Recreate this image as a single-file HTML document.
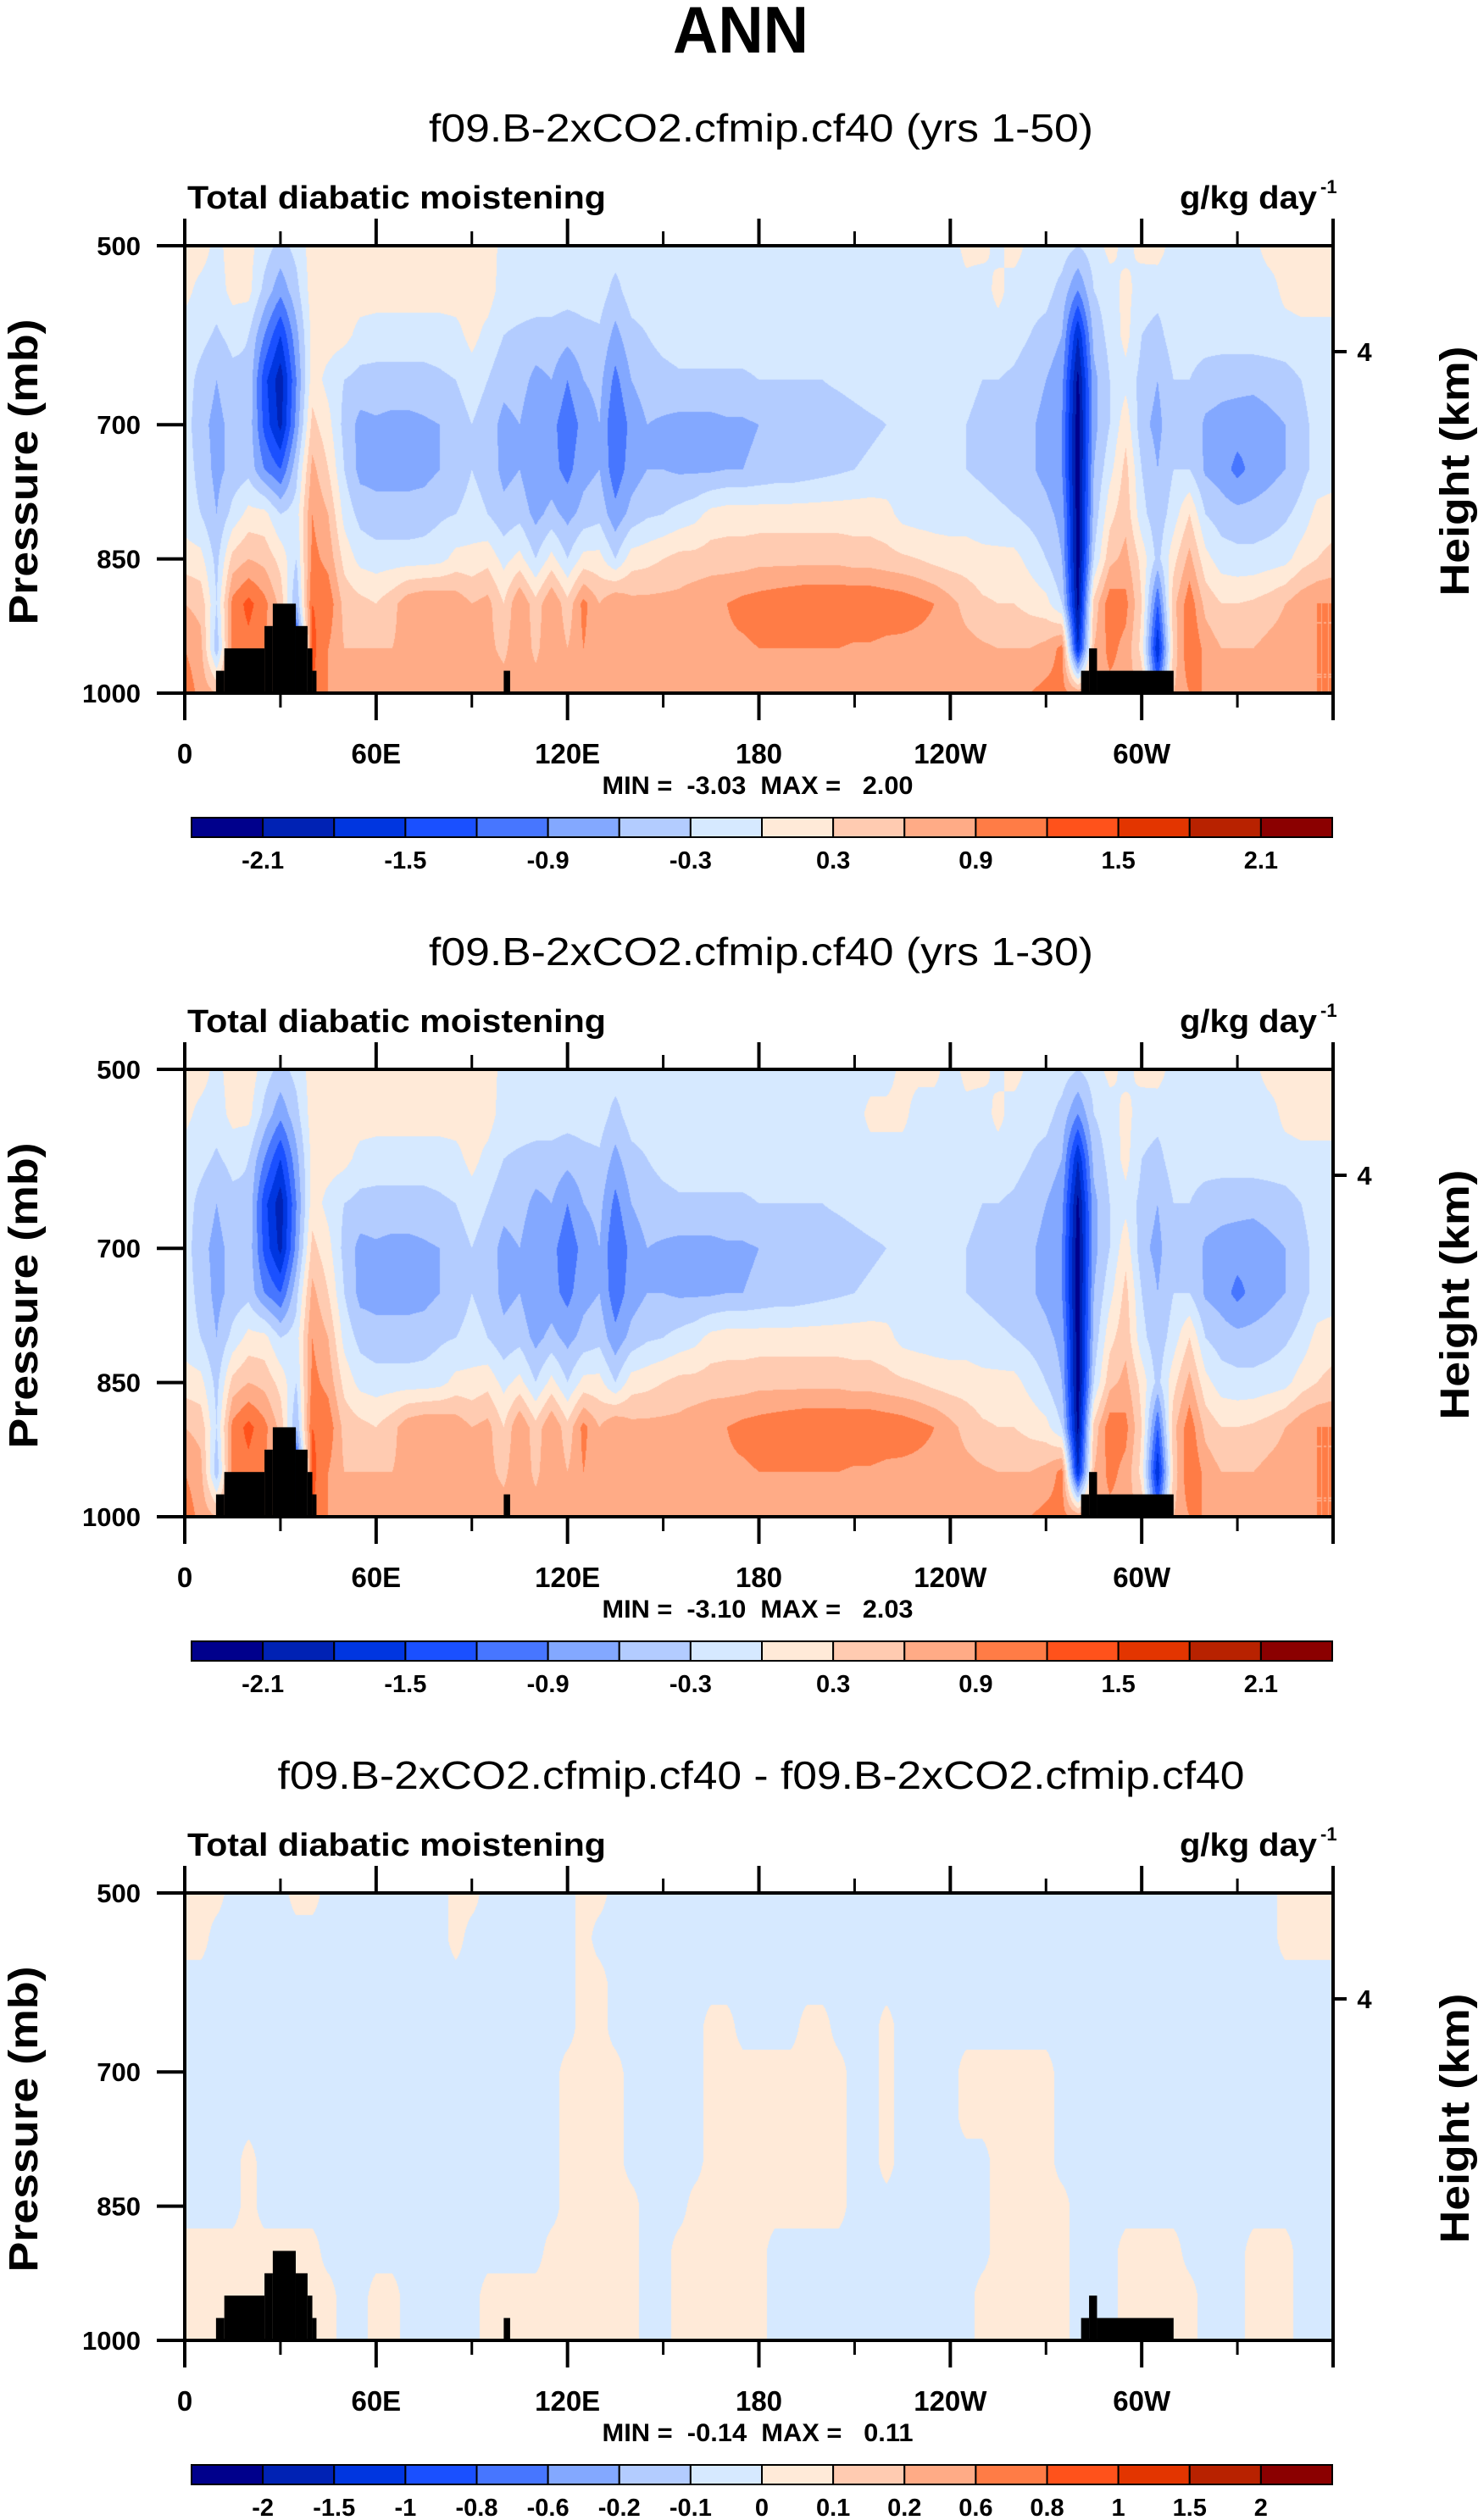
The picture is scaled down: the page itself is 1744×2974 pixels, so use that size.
<!DOCTYPE html>
<html><head><meta charset="utf-8">
<style>
html,body{margin:0;padding:0;background:#fff;}
#root{position:relative;width:1744px;height:2974px;overflow:hidden;background:#fff;}
canvas{position:absolute;}
svg{position:absolute;left:0;top:0;}
text{font-family:"Liberation Sans",sans-serif;fill:#000;}
</style></head>
<body>
<div id="root">
<canvas id="c0" width="1355" height="528"></canvas>
<canvas id="c1" width="1355" height="528"></canvas>
<canvas id="c2" width="1355" height="528"></canvas>
<svg id="svg" width="1744" height="2974" xmlns="http://www.w3.org/2000/svg"></svg>
</div>
<script>
// ---------- data ----------
const lons = [0,5,10,15,20,25,30,35,40,45,50,55,60,65,70,75,80,85,90,95,100,105,110,115,120,125,130,135,140,145,150,155,160,165,170,175,180,185,190,195,200,205,210,215,220,225,230,235,240,245,250,255,260,265,270,275,280,285,290,295,300,305,310,315,320,325,330,335,340,345,350,355,360];
const levels = [500,550,600,650,700,750,800,850,900,950,1000];
const xTickLabels = ["0","60E","120E","180","120W","60W"];
const xTickLons = [0,60,120,180,240,300];
const pTickLabels = ["500","700","850","1000"];
const pTicks = [500,700,850,1000];
const colors = ["#00008C","#0022B4","#0036E0","#1A50FF","#4776FF","#83A8FF","#B3CCFF","#D6E9FF","#FFEAD8","#FFCBB1","#FFAB86","#FF7C46","#FF521B","#E33500","#B82200","#8B0000"];
const bounds12 = [-2.1,-1.8,-1.5,-1.2,-0.9,-0.6,-0.3,0,0.3,0.6,0.9,1.2,1.5,1.8,2.1];
const cbLabels12 = ["-2.1","","-1.5","","-0.9","","-0.3","","0.3","","0.9","","1.5","","2.1"];
const bounds3 = [-2,-1.5,-1,-0.8,-0.6,-0.2,-0.1,0,0.1,0.2,0.6,0.8,1,1.5,2];
const cbLabels3 = ["-2","-1.5","-1","-0.8","-0.6","-0.2","-0.1","0","0.1","0.2","0.6","0.8","1","1.5","2"];
const titles = ["f09.B-2xCO2.cfmip.cf40 (yrs 1-50)","f09.B-2xCO2.cfmip.cf40 (yrs 1-30)","f09.B-2xCO2.cfmip.cf40 - f09.B-2xCO2.cfmip.cf40"];
const minMax = ["MIN = \u00a0-3.03 \u00a0MAX = \u00a0 2.00","MIN = \u00a0-3.10 \u00a0MAX = \u00a0 2.03","MIN = \u00a0-0.14 \u00a0MAX = \u00a0 0.11"];
const topoLon0 = [9.8,12.4,25,27.6,34.8,38.5,40,100,281,283.5,286];
const topoLon1 = [12.4,25,27.6,34.8,38.5,40,41.3,102,283.5,286,310];
const topoP = [975,950,925,900,925,950,975,975,975,950,975];

const field1 = [
[.15,.15,-.1,.15,.1,-.15,-.4,-.2,.15,.15,.15,.15,.15,.15,.15,.15,.15,.15,.15,.15,-.1,-.15,-.15,-.15,-.15,-.15,-.15,-.15,-.15,-.15,-.15,-.15,-.15,-.15,-.15,-.15,-.1,-.15,-.15,-.15,-.15,-.15,-.15,-.15,-.15,-.15,-.15,-.15,-.15,.1,.1,-.1,.15,-.1,-.15,-.15,-.3,-.15,.1,-.1,.1,.15,-.15,-.15,-.15,-.15,-.15,-.1,.15,.15,.15,.15,.15],
[.1,-.1,-.15,.1,.1,-.4,-.8,-.4,.15,.15,.15,.15,.15,.15,.15,.15,.15,.15,.15,.15,-.15,-.15,-.15,-.15,-.15,-.15,-.15,-.4,-.15,-.15,-.15,-.15,-.15,-.15,-.15,-.15,-.15,-.15,-.15,-.15,-.15,-.15,-.15,-.15,-.15,-.15,-.15,-.15,-.15,-.1,-.15,.1,-.15,-.2,-.2,-.4,-.9,-.3,-.15,.1,-.15,-.2,-.15,-.15,-.15,-.15,-.15,-.15,-.15,.1,.15,.15,.15],
[-.15,-.2,-.35,-.2,-.3,-.9,-1.5,-.7,.1,.15,.1,-.1,-.15,-.15,-.15,-.15,-.15,-.1,.1,-.1,-.3,-.35,-.4,-.4,-.5,-.4,-.35,-.7,-.4,-.3,-.2,-.15,-.15,-.15,-.15,-.15,-.15,-.15,-.15,-.15,-.15,-.15,-.15,-.15,-.15,-.15,-.15,-.15,-.15,-.15,-.15,-.15,-.2,-.3,-.4,-.6,-1.8,-.5,-.2,.1,-.3,-.4,-.15,-.15,-.15,-.15,-.15,-.15,-.15,-.15,-.1,-.1,-.1],
[-.15,-.4,-.6,-.4,-.35,-1.4,-2.0,-.9,.15,-.1,-.3,-.4,-.4,-.4,-.4,-.4,-.35,-.3,-.15,-.3,-.5,-.45,-.7,-.6,-.9,-.6,-.5,-1.0,-.6,-.45,-.4,-.35,-.35,-.35,-.35,-.35,-.3,-.3,-.3,-.3,-.3,-.25,-.2,-.15,-.15,-.15,-.15,-.15,-.15,-.2,-.3,-.3,-.35,-.45,-.6,-.8,-2.2,-.7,-.3,-.1,-.4,-.6,-.3,-.3,-.45,-.5,-.5,-.5,-.45,-.4,-.3,-.15,-.15],
[-.15,-.5,-.7,-.5,-.4,-1.3,-1.9,-.8,.4,.1,-.4,-.7,-.65,-.7,-.7,-.65,-.6,-.45,-.3,-.45,-.7,-.6,-.9,-.8,-1.1,-.8,-.6,-1.2,-.8,-.6,-.65,-.7,-.7,-.7,-.65,-.65,-.6,-.6,-.6,-.5,-.45,-.45,-.4,-.35,-.3,-.2,-.2,-.2,-.25,-.3,-.4,-.4,-.45,-.55,-.7,-.9,-2.3,-.7,-.3,.2,-.5,-.7,-.35,-.4,-.65,-.7,-.75,-.8,-.7,-.6,-.4,-.2,-.15],
[-.15,-.4,-.7,-.5,-.4,-.9,-1.2,-.4,.7,.3,-.3,-.7,-.7,-.7,-.7,-.7,-.6,-.45,-.3,-.4,-.7,-.6,-.9,-.8,-1.0,-.7,-.6,-1.1,-.75,-.6,-.6,-.65,-.65,-.65,-.6,-.6,-.55,-.5,-.5,-.45,-.4,-.35,-.3,-.25,-.2,-.15,-.15,-.15,-.2,-.3,-.35,-.4,-.45,-.55,-.7,-.9,-2.3,-.6,-.1,.4,-.3,-.6,-.3,-.3,-.65,-.75,-1.0,-.8,-.7,-.6,-.4,-.2,-.15],
[-.15,-.3,-.6,-.2,.1,.1,-.3,-.15,.9,.6,-.1,-.4,-.5,-.5,-.5,-.45,-.35,-.3,-.2,-.3,-.5,-.4,-.7,-.5,-.7,-.5,-.4,-.8,-.5,-.35,-.3,-.2,-.1,.1,.15,.15,.15,.15,.15,.15,.15,.15,.15,.15,.1,-.1,-.15,-.15,-.15,-.15,-.2,-.25,-.3,-.4,-.5,-.7,-2.3,-.5,.2,.5,-.2,-.5,-.15,.3,-.3,-.45,-.5,-.5,-.45,-.35,-.2,.1,.15],
[.15,.1,-.4,.4,.6,.5,.2,-.3,1.0,.8,.2,-.1,-.15,-.15,-.15,-.15,-.1,.1,.1,.2,-.1,.1,-.3,.1,-.3,.1,.1,-.3,.15,.2,.3,.4,.4,.45,.45,.45,.5,.5,.5,.5,.5,.5,.45,.45,.4,.35,.3,.2,.15,.15,.1,.1,.1,-.1,-.3,-.6,-2.3,-.3,.5,.7,.2,-.4,.2,.7,.1,-.15,-.2,-.2,-.15,-.1,.15,.3,.4],
[.6,.5,-.3,1.0,1.3,1.0,.5,-.6,1.2,1.1,.5,.4,.3,.5,.8,.9,.9,.8,.6,.7,.3,.9,.4,.9,.4,1.0,.6,.9,.7,.7,.7,.7,.8,.85,.9,1.0,1.05,1.1,1.15,1.2,1.2,1.2,1.2,1.2,1.15,1.1,1.0,.9,.7,.5,.35,.3,.3,.2,.1,-.3,-2.2,.4,1.1,1.0,.3,-1.2,.5,1.1,.5,.3,.3,.35,.45,.6,.8,.9,.9],
[.9,.7,-.5,1.0,1.1,.9,.6,-1.5,1.3,.9,.6,.6,.6,.6,.7,.7,.7,.7,.6,.7,.5,.9,.5,.9,.6,.9,.7,.8,.7,.7,.75,.75,.8,.8,.85,.85,.9,.9,.9,.9,.9,.9,.85,.85,.8,.8,.8,.8,.75,.7,.65,.6,.6,.6,.7,1.0,-1.8,.6,1.0,.8,.2,-1.8,.4,1.2,.8,.6,.6,.6,.7,.75,.8,.9,.9],
[1.1,.8,.6,.9,.9,.8,.7,-2.2,1.2,.9,.9,.9,.9,.85,.85,.85,.85,.85,.8,.8,.8,.8,.8,.85,.85,.85,.85,.85,.85,.85,.85,.85,.85,.85,.85,.85,.85,.85,.85,.85,.85,.85,.85,.85,.85,.85,.85,.85,.85,.85,.85,.85,.85,.9,1.0,1.0,.8,.8,.8,.8,.5,-1.0,.6,.9,.9,.9,.9,.9,.9,.9,.9,.9,.9]
];
const field2 = [
[.15,.15,-.1,.15,.2,-.15,-.4,-.2,.15,.15,.2,.15,.15,.15,.15,.15,.15,.15,.15,.15,-.1,-.15,-.15,-.15,-.15,-.15,-.15,-.15,-.15,-.15,-.15,-.15,-.15,-.15,-.15,-.15,-.1,-.15,-.15,-.15,-.15,-.15,-.15,-.15,-.15,.1,.1,.1,-.15,.1,.1,-.1,.15,-.1,-.15,-.15,-.3,-.15,.1,-.1,.1,.15,-.15,-.15,-.15,-.15,-.15,-.1,.15,.15,.15,.15,.15],
[.1,-.1,-.15,.1,.1,-.4,-.8,-.4,.15,.15,.15,.15,.15,.15,.15,.15,.15,.15,.15,.15,-.15,-.15,-.15,-.15,-.15,-.15,-.15,-.4,-.15,-.15,-.15,-.15,-.15,-.15,-.15,-.15,-.15,-.15,-.15,-.15,-.15,-.15,-.15,.1,.1,.1,-.15,-.15,-.15,-.1,-.15,.1,-.15,-.2,-.2,-.4,-.9,-.3,-.15,.1,-.15,-.2,-.15,-.15,-.15,-.15,-.15,-.15,-.15,.1,.15,.15,.15],
field1[2],field1[3],field1[4],field1[5],field1[6],field1[7],field1[8],field1[9],field1[10]
];
const o=0.05, b=-0.05;
const field3 = [
[o,o,o,b,b,b,b,o,o,b,b,b,b,b,b,b,b,o,o,b,b,b,b,b,b,o,o,b,b,b,b,b,b,b,b,b,b,b,b,b,b,b,b,b,b,b,b,b,b,b,b,b,b,b,b,b,b,b,b,b,b,b,b,b,b,b,b,b,b,o,o,o,o],
[o,o,b,b,b,b,b,b,b,b,b,b,b,b,b,b,b,o,b,b,b,b,b,b,b,o,b,b,b,b,b,b,b,b,b,b,b,b,b,b,b,b,b,b,b,b,b,b,b,b,b,b,b,b,b,b,b,b,b,b,b,b,b,b,b,b,b,b,b,o,o,o,o],
[b,b,b,b,b,b,b,b,b,b,b,b,b,b,b,b,b,b,b,b,b,b,b,b,b,o,o,b,b,b,b,b,b,b,b,b,b,b,b,b,b,b,b,b,b,b,b,b,b,b,b,b,b,b,b,b,b,b,b,b,b,b,b,b,b,b,b,b,b,b,b,b,b],
[b,b,b,b,b,b,b,b,b,b,b,b,b,b,b,b,b,b,b,b,b,b,b,b,b,o,o,b,b,b,b,b,b,o,o,b,b,b,b,o,o,b,b,b,o,b,b,b,b,b,b,b,b,b,b,b,b,b,b,b,b,b,b,b,b,b,b,b,b,b,b,b,b],
[b,b,b,b,b,b,b,b,b,b,b,b,b,b,b,b,b,b,b,b,b,b,b,b,o,o,o,o,b,b,b,b,b,o,o,o,o,o,o,o,o,o,b,b,o,b,b,b,b,o,o,o,o,o,o,b,b,b,b,b,b,b,b,b,b,b,b,b,b,b,b,b,b],
[b,b,b,b,b,b,b,b,b,b,b,b,b,b,b,b,b,b,b,b,b,b,b,b,o,o,o,o,b,b,b,b,b,o,o,o,o,o,o,o,o,o,b,b,o,b,b,b,b,o,o,o,o,o,o,b,b,b,b,b,b,b,b,b,b,b,b,b,b,b,b,b,b],
[b,b,b,b,o,b,b,b,b,b,b,b,b,b,b,b,b,b,b,b,b,b,b,b,o,o,o,o,b,b,b,b,b,o,o,o,o,o,o,o,o,o,b,b,o,b,b,b,b,b,b,o,o,o,o,b,b,b,b,b,b,b,b,b,b,b,b,b,b,b,b,b,b],
[b,b,b,b,o,b,b,b,b,b,b,b,b,b,b,b,b,b,b,b,b,b,b,b,o,o,o,o,o,b,b,b,o,o,o,o,o,o,o,o,o,o,b,b,b,b,b,b,b,b,b,o,o,o,o,o,b,b,b,b,b,b,b,b,b,b,b,b,b,b,b,b,b],
[o,o,o,o,o,o,o,o,o,b,b,b,b,b,b,b,b,b,b,b,b,b,b,o,o,o,o,o,o,b,b,o,o,o,o,o,o,b,b,b,b,b,b,b,b,b,b,b,b,b,b,o,o,o,o,o,b,b,b,o,o,o,o,b,b,b,b,o,o,o,b,b,b],
[o,o,o,o,o,o,o,o,o,o,b,b,o,o,b,b,b,b,b,o,o,o,o,o,o,o,o,o,o,b,b,o,o,o,o,o,o,b,b,b,b,b,b,b,b,b,b,b,b,b,o,o,o,o,o,o,b,b,b,o,o,o,o,o,b,b,b,o,o,o,b,b,b],
[o,o,o,o,o,o,o,o,o,o,b,b,o,o,b,b,b,b,b,o,o,o,o,o,o,o,o,o,o,b,b,o,o,o,o,o,o,b,b,b,b,b,b,b,b,b,b,b,b,b,o,o,o,o,o,o,b,b,b,o,o,o,o,o,b,b,b,o,o,o,b,b,b]
];
const fields = [field1, field2, field3];
const boundSets = [bounds12, bounds12, bounds3];
const cbLabelSets = [cbLabels12, cbLabels12, cbLabels3];

// ---------- layout ----------
const PX0 = 218, PX1 = 1573, PY0 = 290, PY1 = 818;
const OFFS = [0, 972, 1944];
const PW = PX1 - PX0, PH = PY1 - PY0;
function xOf(lon){ return PX0 + lon / 360 * PW; }
function yOf(p, off){ return off + PY0 + (p - 500) / 500 * PH; }

function hexRgb(h){ return [parseInt(h.substr(1,2),16),parseInt(h.substr(3,2),16),parseInt(h.substr(5,2),16)]; }
const rgbs = colors.map(hexRgb);

function sample(f, lon, p){
  let gx = lon / 5, gy = (p - 500) / 50;
  let i = Math.min(Math.floor(gx), lons.length - 2), j = Math.min(Math.floor(gy), levels.length - 2);
  let fx = gx - i, fy = gy - j;
  let a = f[j][i], bb = f[j][i+1], c = f[j+1][i], d = f[j+1][i+1];
  return (a*(1-fx)+bb*fx)*(1-fy) + (c*(1-fx)+d*fx)*fy;
}
function colorIdx(v, bnds){ let k = 0; while (k < bnds.length && v >= bnds[k]) k++; return k; }

for (let k = 0; k < 3; k++){
  const cv = document.getElementById('c' + k);
  cv.style.left = PX0 + 'px'; cv.style.top = (OFFS[k] + PY0) + 'px';
  const ctx = cv.getContext('2d');
  const img = ctx.createImageData(PW, PH);
  for (let y = 0; y < PH; y++){
    const p = 500 + (y + 0.5) / PH * 500;
    for (let x = 0; x < PW; x++){
      const lon = (x + 0.5) / PW * 360;
      const v = sample(fields[k], lon, p);
      const c = rgbs[colorIdx(v, boundSets[k])];
      const q = (y * PW + x) * 4;
      img.data[q] = c[0]; img.data[q+1] = c[1]; img.data[q+2] = c[2]; img.data[q+3] = 255;
    }
  }
  ctx.putImageData(img, 0, 0);
}

// ---------- svg ----------
const NS = "http://www.w3.org/2000/svg";
const svg = document.getElementById('svg');
function mk(tag, attrs, parent){
  const e = document.createElementNS(NS, tag);
  for (const a in attrs) e.setAttribute(a, attrs[a]);
  (parent || svg).appendChild(e);
  return e;
}
function txt(s, attrs, parent){ const t = mk('text', attrs, parent); t.textContent = s; return t; }

const ann = txt("ANN", {x:874, y:62, 'text-anchor':'middle', 'font-size':78, 'font-weight':'bold', textLength:160, lengthAdjust:'spacingAndGlyphs'});



const titleLens = [784, 784, 1141];
for (let k = 0; k < 3; k++){
  const off = OFFS[k];
  const g = mk('g', {});
  
  

  const t = txt(titles[k], {x:898, y:off+167, 'text-anchor':'middle', 'font-size':46, textLength:titleLens[k], lengthAdjust:'spacingAndGlyphs'}, g);
  
  

  const lt = txt("Total diabatic moistening", {x:221, y:off+246, 'font-size':38, 'font-weight':'bold', textLength:494, lengthAdjust:'spacingAndGlyphs'}, g);
  
  

  const ut = txt("g/kg day", {x:1392, y:off+246, 'font-size':38, 'font-weight':'bold', textLength:162, lengthAdjust:'spacingAndGlyphs'}, g);
  
  
  const us = txt("-1", {x:1558, y:off+228, 'font-size':22, 'font-weight':'bold'}, g);
  
  

  for (let i = 0; i < topoLon0.length; i++){
    const r = mk('rect', {x:xOf(topoLon0[i]), y:yOf(topoP[i], off), width:xOf(topoLon1[i]) - xOf(topoLon0[i]), height:yOf(1000, off) - yOf(topoP[i], off), fill:'#000'}, g);
    
    
  }

  const fr = mk('rect', {x:PX0, y:off+PY0, width:PW, height:PH, fill:'none', stroke:'#000', 'stroke-width':4}, g);
  
  

  for (let lon = 0; lon <= 360; lon += 30){
    const major = lon % 60 === 0;
    const len = major ? 32 : 17;
    const x = xOf(lon);
    const t1 = mk('line', {x1:x, x2:x, y1:off+PY0, y2:off+PY0-len, stroke:'#000', 'stroke-width':major?4:3}, g);
    
    
    const t2 = mk('line', {x1:x, x2:x, y1:off+PY1, y2:off+PY1+len, stroke:'#000', 'stroke-width':major?4:3}, g);
    
    
  }
  for (let i = 0; i < xTickLabels.length; i++){
    const l = txt(xTickLabels[i], {x:xOf(xTickLons[i]), y:off+901, 'text-anchor':'middle', 'font-size':33, 'font-weight':'bold'}, g);
    
    
  }
  for (let i = 0; i < pTicks.length; i++){
    const y = yOf(pTicks[i], off);
    const tk = mk('line', {x1:PX0-33, x2:PX0, y1:y, y2:y, stroke:'#000', 'stroke-width':4}, g);
    
    
    const l = txt(pTickLabels[i], {x:166, y:y+11, 'text-anchor':'end', 'font-size':31, 'font-weight':'bold'}, g);
    
    
  }
  const hy = off + 415;
  const rt = mk('line', {x1:PX1, x2:PX1+16, y1:hy, y2:hy, stroke:'#000', 'stroke-width':4}, g);
  
  
  const rl = txt("4", {x:1610, y:hy+11, 'text-anchor':'middle', 'font-size':31, 'font-weight':'bold'}, g);
  
  

  const yt = txt("Pressure (mb)", {x:0, y:0, 'text-anchor':'middle', 'font-size':48, 'font-weight':'bold', textLength:361, lengthAdjust:'spacingAndGlyphs', transform:'translate(44,'+(off+557)+') rotate(-90)'}, g);
  
  
  const ht = txt("Height (km)", {x:0, y:0, 'text-anchor':'middle', 'font-size':48, 'font-weight':'bold', textLength:295, lengthAdjust:'spacingAndGlyphs', transform:'translate(1733,'+(off+556)+') rotate(-90)'}, g);
  
  

  const mm = txt(minMax[k], {x:894, y:off+937, 'text-anchor':'middle', 'font-size':30, 'font-weight':'bold', textLength:367, lengthAdjust:'spacingAndGlyphs'}, g);
  
  

  const cbX0 = 226, cbX1 = 1572, cbY = off + 965, cbH = 23;
  const segW = (cbX1 - cbX0) / colors.length;
  for (let i = 0; i < colors.length; i++){
    const r = mk('rect', {x:cbX0 + i*segW, y:cbY, width:segW, height:cbH, fill:colors[i], stroke:'#000', 'stroke-width':2}, g);
    
    
  }
  const labs = cbLabelSets[k];
  for (let i = 0; i < labs.length; i++){
    if (!labs[i]) continue;
    const l = txt(labs[i], {x:cbX0 + (i+1)*segW, y:cbY + 60, 'text-anchor':'middle', 'font-size':29, 'font-weight':'bold'}, g);
    
    
  }
}
</script>
</body></html>
